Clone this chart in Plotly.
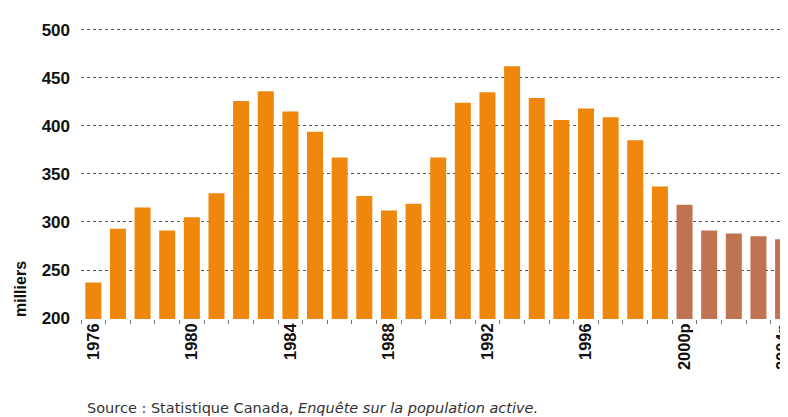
import plotly.graph_objects as go

years = list(range(1976, 2005))
values = [237, 293, 315, 291, 305, 330, 426, 436, 415, 394, 367, 327, 312,
          319, 367, 424, 435, 462, 429, 406, 418, 409, 385, 337, 318, 291,
          288, 285, 282]
projected_from = 2000
tick_years = [1976, 1980, 1984, 1988, 1992, 1996, 2000, 2004]
tick_labels = ["1976", "1980", "1984", "1988", "1992", "1996", "2000p", "2004p"]

ORANGE = "#EE870C"
BROWN = "#C07350"
colors = [ORANGE if y < projected_from else BROWN for y in years]

# the page body has an 8px margin, so the figure is drawn 8px in from the corner
OFF = 8
W, H = 788 - OFF, 417 - OFF
L, R, T, B = 81 - OFF, 0, 25 - OFF, 98
PW, PH = W - L - R, H - T - B


def px_x(x):
    return (x - OFF - L) / PW


def px_y(y):
    return (H - B - (y - OFF)) / PH


fig = go.Figure()
fig.add_trace(go.Bar(x=years, y=values, marker=dict(color=colors, line=dict(width=0)),
                     width=0.65, cliponaxis=True))

FONT = "Liberation Sans"
fig.update_layout(
    width=W, height=H,
    margin=dict(l=L, r=R, t=T, b=B, autoexpand=False),
    paper_bgcolor="white", plot_bgcolor="white",
    showlegend=False,
    font=dict(family=FONT, color="#111"),
    xaxis=dict(
        automargin=False,
        range=[1975.5, 2004.2],
        tickvals=tick_years, ticktext=tick_labels,
        tickangle=-90, ticks="", ticklen=0,
        ticklabeloverflow="allow",
        tickfont=dict(family=FONT, size=16.5, color="#111", weight="bold"),
        showgrid=False, zeroline=False, showline=False,
        minor=dict(tickvals=[y - 0.5 for y in years] + [2004.5], ticks="outside",
                   ticklen=4, tickcolor="#777", tickwidth=1, showgrid=False),
    ),
    yaxis=dict(
        automargin=False,
        range=[199, 505],
        tickvals=[200, 250, 300, 350, 400, 450, 500],
        tickfont=dict(family=FONT, size=17, color="#111", weight="bold"),
        showgrid=True, gridcolor="#555", griddash="dot", gridwidth=1,
        zeroline=False, showline=False, ticks="", ticklabelstandoff=10,
    ),
    annotations=[
        dict(text="<b>milliers</b>", x=px_x(20), y=px_y(289), xref="paper", yref="paper",
             xanchor="center", yanchor="middle",
             showarrow=False, textangle=-90, font=dict(family=FONT, size=16, color="#111")),
        dict(text="Source : Statistique Canada, <i>Enquête sur la population active.</i>",
             x=px_x(85), y=px_y(408), xref="paper", yref="paper",
             xanchor="left", yanchor="middle",
             showarrow=False, font=dict(family="DejaVu Sans", size=14.5, color="#333")),
    ],
)

fig.write_html("out.html")
